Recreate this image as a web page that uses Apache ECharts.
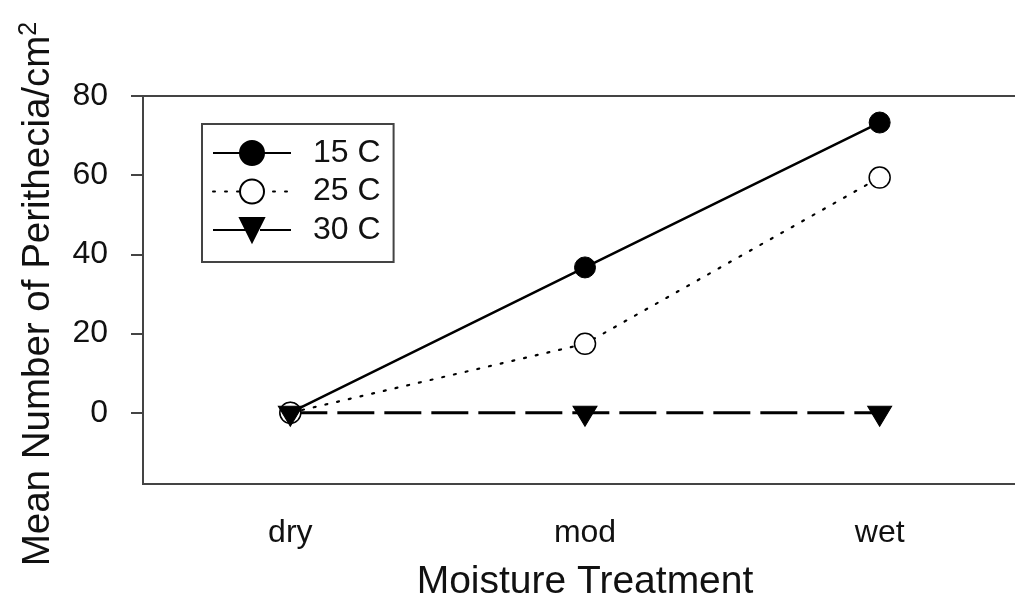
<!DOCTYPE html>
<html>
<head>
<meta charset="utf-8">
<script src="https://cdn.jsdelivr.net/npm/echarts@6/dist/echarts.min.js"></script>
<style>
  html, body { margin: 0; padding: 0; background: #fff; }
  #chart { width: 1015px; height: 600px; }
</style>
</head>
<body>
<div id="chart"></div>
<script>
// Moisture treatments on the category axis
const treatments = ['dry', 'mod', 'wet'];
// Mean perithecia per cm² at each incubation temperature
const temp15 = [0, 36.7, 73.3];
const temp25 = [0, 17.4, 59.4];
const temp30 = [0, 0, 0];
// Labelled y ticks
const yTicks = [0, 20, 40, 60, 80];

const axisColor = '#444';
const font = 'Liberation Sans, Arial, sans-serif';

const chart = echarts.init(document.getElementById('chart'), null, { renderer: 'canvas' });

chart.setOption({
  backgroundColor: '#fff',
  animation: false,
  grid: {
    left: 143, top: 96, width: 884, height: 388,
    show: true, borderColor: axisColor, borderWidth: 2, backgroundColor: 'transparent',
    containLabel: false,
    outerBoundsMode: 'none'
  },
  legend: {
    orient: 'vertical',
    left: 202, top: 124,
    padding: [12, 13, 15, 10],
    itemGap: 4.5,
    itemWidth: 78, itemHeight: 30,
    borderColor: axisColor, borderWidth: 2,
    textStyle: { fontFamily: font, fontSize: 32, lineHeight: 34, color: '#111', padding: [0, 0, 0, 17] },
    data: ['15 C', '25 C', '30 C']
  },
  xAxis: {
    type: 'category',
    data: treatments,
    boundaryGap: true,
    axisLine: { onZero: false, lineStyle: { color: axisColor, width: 2 } },
    axisTick: { alignWithLabel: true, length: 12, lineStyle: { color: axisColor, width: 2 } },
    axisLabel: { margin: 33, fontFamily: font, fontSize: 32, color: '#111' },
    splitLine: { show: false },
    name: 'Moisture Treatment',
    nameLocation: 'middle',
    nameGap: 79,
    nameTextStyle: { fontFamily: font, fontSize: 39, color: '#111' }
  },
  yAxis: {
    type: 'value',
    min: -18, max: 80,
    axisLine: { show: true, lineStyle: { color: axisColor, width: 2 } },
    axisTick: { show: true, length: 12, customValues: yTicks, lineStyle: { color: axisColor, width: 2 } },
    axisLabel: { margin: 35, customValues: yTicks, fontFamily: font, fontSize: 32, color: '#111' },
    splitLine: { show: false },
    name: '{t|Mean Number of Perithecia/cm}{s|2}',
    nameLocation: 'middle',
    nameGap: 84,
    nameTextStyle: {
      fontFamily: font, color: '#111',
      rich: {
        t: { fontFamily: font, fontSize: 38.5, color: '#111', lineHeight: 42 },
        s: { fontFamily: font, fontSize: 25, color: '#111', verticalAlign: 'top', lineHeight: 42, padding: [0, 8, 14, 0] }
      }
    }
  },
  series: [
    {
      name: '15 C', type: 'line', data: temp15,
      symbol: 'circle', symbolSize: 21,
      lineStyle: { color: '#000', width: 2.5, type: 'solid' },
      itemStyle: { color: '#000', borderColor: '#000', borderWidth: 1 }
    },
    {
      name: '25 C', type: 'line', data: temp25,
      symbol: 'circle', symbolSize: 21,
      lineStyle: { color: '#000', width: 2.2, type: [2, 10], cap: 'round' },
      itemStyle: { color: '#fff', borderColor: '#000', borderWidth: 1.5 }
    },
    {
      name: '30 C', type: 'line', data: temp30,
      symbol: 'triangle', symbolRotate: 180, symbolSize: [24, 20], symbolOffset: [0, 3.5],
      lineStyle: { color: '#000', width: 3, type: [37, 10] },
      itemStyle: { color: '#000', borderColor: '#000', borderWidth: 1 }
    }
  ]
});
</script>
</body>
</html>
